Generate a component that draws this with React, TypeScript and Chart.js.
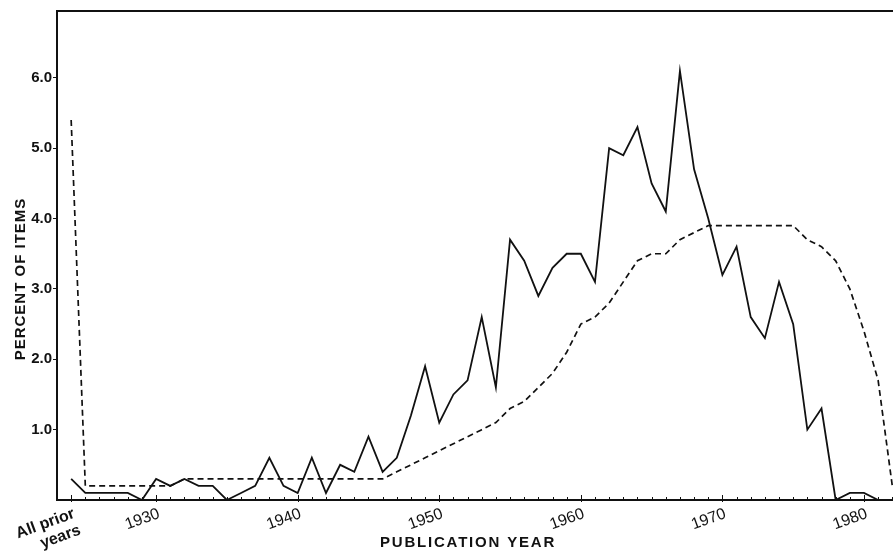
import React, { useEffect, useRef } from 'react';
import { Chart, registerables } from 'chart.js';

Chart.register(...registerables);

const years = [
  1924, 1925, 1926, 1927, 1928, 1929, 1930, 1931, 1932, 1933, 1934, 1935, 1936, 1937, 1938, 1939,
  1940, 1941, 1942, 1943, 1944, 1945, 1946, 1947, 1948, 1949, 1950, 1951, 1952, 1953, 1954, 1955,
  1956, 1957, 1958, 1959, 1960, 1961, 1962, 1963, 1964, 1965, 1966, 1967, 1968, 1969, 1970, 1971,
  1972, 1973, 1974, 1975, 1976, 1977, 1978, 1979, 1980, 1981, 1982,
];

// solid line: percent of items by publication year
const solidValues = [
  0.3, 0.1, 0.1, 0.1, 0.1, 0.0, 0.3, 0.2, 0.3, 0.2, 0.2, 0.0, 0.1, 0.2, 0.6, 0.2,
  0.1, 0.6, 0.1, 0.5, 0.4, 0.9, 0.4, 0.6, 1.2, 1.9, 1.1, 1.5, 1.7, 2.6, 1.6, 3.7,
  3.4, 2.9, 3.3, 3.5, 3.5, 3.1, 5.0, 4.9, 5.3, 4.5, 4.1, 6.1, 4.7, 4.0, 3.2, 3.6,
  2.6, 2.3, 3.1, 2.5, 1.0, 1.3, 0.0, 0.1, 0.1, 0.0, 0.0,
];

// dashed line
const dashedValues = [
  5.4, 0.2, 0.2, 0.2, 0.2, 0.2, 0.2, 0.2, 0.3, 0.3, 0.3, 0.3, 0.3, 0.3, 0.3, 0.3,
  0.3, 0.3, 0.3, 0.3, 0.3, 0.3, 0.3, 0.4, 0.5, 0.6, 0.7, 0.8, 0.9, 1.0, 1.1, 1.3,
  1.4, 1.6, 1.8, 2.1, 2.5, 2.6, 2.8, 3.1, 3.4, 3.5, 3.5, 3.7, 3.8, 3.9, 3.9, 3.9,
  3.9, 3.9, 3.9, 3.9, 3.7, 3.6, 3.4, 3.0, 2.4, 1.7, 0.2,
];

const xTickValues = [1924, 1930, 1940, 1950, 1960, 1970, 1980];
const xTickLabels: (string | string[])[] = [['All prior', 'years'], '1930', '1940', '1950', '1960', '1970', '1980'];
const yTickValues = [1, 2, 3, 4, 5, 6];
const xTitle = 'PUBLICATION YEAR';
const yTitle = 'PERCENT OF ITEMS';

const FONT = '"Liberation Sans", Arial, Helvetica, sans-serif';
const INK = '#111111';

const decorPlugin = {
  id: 'decor',
  afterDraw(chart: any) {
    const { ctx, chartArea, scales } = chart;
    const xs = scales.x;
    ctx.save();
    ctx.strokeStyle = INK;
    // minor yearly ticks pointing inward
    ctx.lineWidth = 1;
    for (const yr of years) {
      const px = Math.round(xs.getPixelForValue(yr)) + 0.5;
      ctx.beginPath();
      ctx.moveTo(px, chartArea.bottom);
      ctx.lineTo(px, chartArea.bottom - 3);
      ctx.stroke();
    }
    for (const yr of xTickValues) {
      const px = Math.round(xs.getPixelForValue(yr)) + 0.5;
      ctx.beginPath();
      ctx.moveTo(px, chartArea.bottom + 2);
      ctx.lineTo(px, chartArea.bottom - 5);
      ctx.stroke();
    }
    // top frame line
    ctx.lineWidth = 2;
    ctx.beginPath();
    ctx.moveTo(chartArea.left - 1, chartArea.top);
    ctx.lineTo(chartArea.right, chartArea.top);
    ctx.stroke();
    // axis titles
    ctx.fillStyle = INK;
    ctx.font = `bold 15px ${FONT}`;
    ctx.textAlign = 'center';
    ctx.textBaseline = 'alphabetic';
    (ctx as any).letterSpacing = '1.8px';
    ctx.fillText(xTitle, 468, 547);
    (ctx as any).letterSpacing = '1px';
    ctx.translate(25, 279);
    ctx.rotate(-Math.PI / 2);
    ctx.fillText(yTitle, 0, 0);
    ctx.restore();
  },
};

export default function App() {
  const canvasRef = useRef<HTMLCanvasElement | null>(null);

  useEffect(() => {
    const canvas = canvasRef.current;
    if (!canvas) return;
    const solidData = years.map((x, i) => ({ x, y: solidValues[i] }));
    const dashedData = years.map((x, i) => ({ x, y: dashedValues[i] }));

    const chart = new Chart(canvas, {
      type: 'line',
      data: {
        datasets: [
          {
            data: solidData,
            borderColor: INK,
            borderWidth: 1.8,
            pointRadius: 0,
            tension: 0,
            fill: false,
          },
          {
            data: dashedData,
            borderColor: INK,
            borderWidth: 1.7,
            borderDash: [6, 4],
            pointRadius: 0,
            tension: 0,
            fill: false,
          },
        ],
      },
      options: {
        animation: false,
        responsive: false,
        devicePixelRatio: 1,
        layout: { padding: { top: 11, left: 0, right: 0, bottom: 0 } },
        plugins: {
          legend: { display: false },
          tooltip: { enabled: false },
          title: { display: false },
        },
        scales: {
          x: {
            type: 'linear',
            min: 1923,
            max: 1982.05,
            afterBuildTicks: (s: any) => {
              s.ticks = xTickValues.map((v) => ({ value: v }));
            },
            afterFit: (s: any) => {
              s.height = 52;
            },
            grid: { display: true, drawOnChartArea: false, drawTicks: false },
            border: { display: true, color: INK, width: 2 },
            ticks: {
              autoSkip: false,
              minRotation: 20,
              maxRotation: 20,
              padding: 5,
              labelOffset: 3,
              color: INK,
              font: (c: any) => ({ family: FONT, size: 16, weight: c.index === 0 ? 'bold' : 'normal', lineHeight: 1.1 }),
              callback: (_v: any, i: number) => xTickLabels[i],
            },
          },
          y: {
            type: 'linear',
            min: 0,
            max: 6.95,
            afterBuildTicks: (s: any) => {
              s.ticks = yTickValues.map((v) => ({ value: v }));
            },
            afterFit: (s: any) => {
              s.width = 57;
            },
            grid: { display: true, drawOnChartArea: false, drawTicks: true, tickLength: 4, color: INK },
            border: { display: true, color: INK, width: 2 },
            ticks: {
              padding: 1,
              color: INK,
              font: { family: FONT, size: 15, weight: 'bold' },
              callback: (v: any) => Number(v).toFixed(1),
            },
          },
        },
      },
      plugins: [decorPlugin],
    });
    return () => chart.destroy();
  }, []);

  return (
    <div style={{ position: 'fixed', left: 0, top: 0, width: 893, height: 552, background: '#fff' }}>
      <canvas ref={canvasRef} width={893} height={552} style={{ display: 'block', width: 893, height: 552 }} />
    </div>
  );
}
